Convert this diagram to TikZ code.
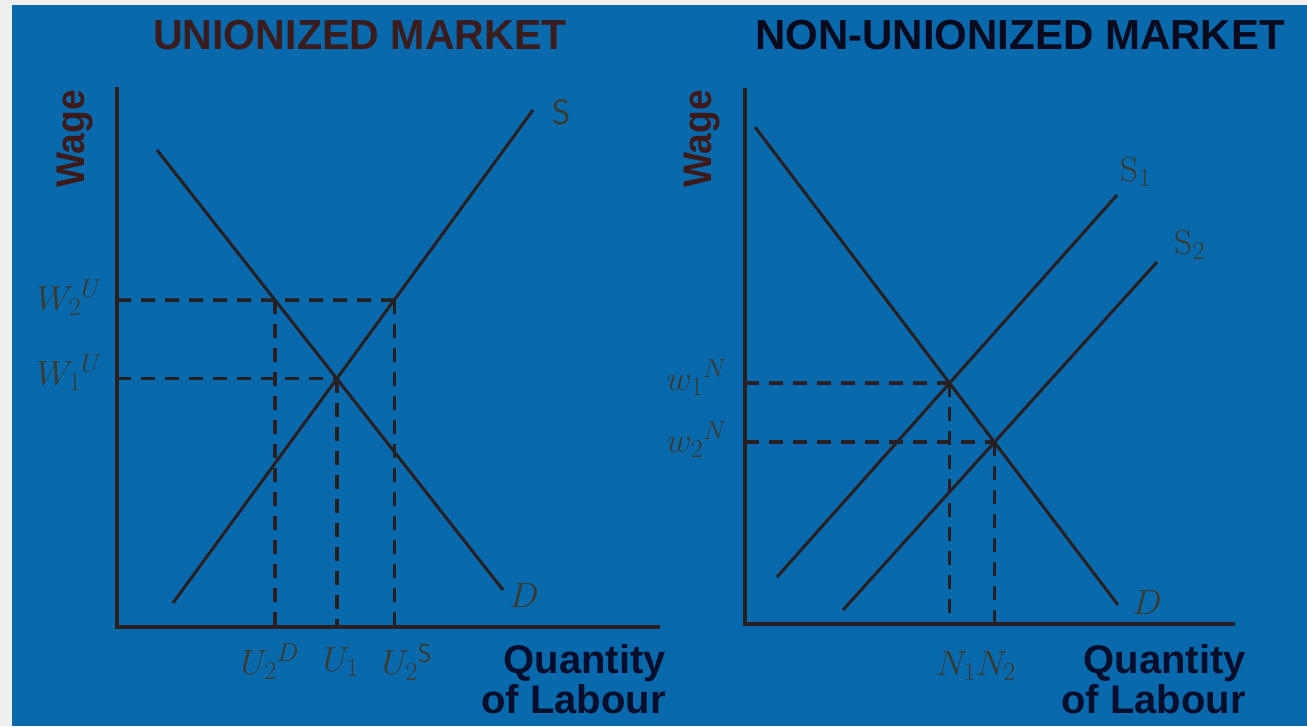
\RequirePackage{fix-cm}
\documentclass[tikz,border=0pt]{standalone}
\usepackage{fontspec}
\usepackage{graphicx}
\newfontfamily\hsans{Liberation Sans}
\DeclareMathSizes{35}{35}{26}{20}
\definecolor{bgblue}{RGB}{8,105,172}
\definecolor{edgegray}{RGB}{238,238,238}
\definecolor{linec}{RGB}{40,32,32}
\definecolor{labc}{RGB}{58,58,44}
\definecolor{titleL}{RGB}{58,28,28}
\definecolor{titleR}{RGB}{10,10,30}
\definecolor{qtyc}{RGB}{6,14,44}
\definecolor{wagec}{RGB}{60,26,26}
\tikzset{
  curve/.style={line width=3pt, draw=linec},
  axisline/.style={line width=3.5pt, draw=linec},
  dashl/.style={line width=3.5pt, draw=linec, dash pattern=on 14pt off 10pt},
  lab/.style={text=labc, font=\fontsize{35}{38}\selectfont, inner sep=0pt},
  ttl/.style={font=\hsans\bfseries\fontsize{42}{48}\selectfont, inner sep=0pt},
  qty/.style={font=\hsans\bfseries\fontsize{40}{40}\selectfont, text=qtyc, align=right, inner sep=0pt},
  wage/.style={font=\hsans\bfseries\fontsize{40}{40}\selectfont, text=wagec, rotate=90, inner sep=0pt},
}
\begin{document}
\begin{tikzpicture}[x=1pt,y=-1pt]
\useasboundingbox (0,0) rectangle (1307,726);
\fill[edgegray] (0,0) rectangle (1307,726);
\fill[bgblue] (12,5) rectangle (1307,726);

% ---------- Left panel ----------
\node[ttl, text=titleL] (tL) at (360,35) {\scalebox{0.98}[1]{UNIONIZED MARKET}};
\coordinate (LO) at (117,627);
\coordinate (LT) at (117,87);
\coordinate (LX) at (660,627);
\draw[axisline] (LT) -- (LO) -- (LX);
\node[wage] (wL) at (75,139) {\scalebox{0.93}[1]{Wage}};

\coordinate (DLa) at (157,150);
\coordinate (DLb) at (503,590);
\coordinate (SLa) at (173,603);
\coordinate (SLb) at (533,110);
\coordinate (E) at (intersection of DLa--DLb and SLa--SLb);
\coordinate (W2h) at (117,300);
\coordinate (W2r) at (600,300);
\coordinate (SW2) at (intersection of W2h--W2r and SLa--SLb);
\coordinate (DW2) at (intersection of W2h--W2r and DLa--DLb);

\draw[dashl] (W2h) -- (SW2);
\draw[dashl] (E -| LO) -- (E);
\draw[dashl] (DW2) -- (DW2 |- LO);
\draw[dashl] (E) -- (E |- LO);
\draw[dashl] (SW2) -- (SW2 |- LO);

\draw[curve] (DLa) -- (DLb);
\draw[curve] (SLa) -- (SLb);

\node[lab] (sL) at (562,112) {$\mathsf{S}$};
\node[lab] (dL) at (524,596) {$D$};
\node[lab, anchor=east] (w2u) at (102,298) {$W_2{}^{U}$};
\node[lab, anchor=east] (w1u) at (102,373) {$W_1{}^{U}$};
\node[lab] (u2d) at (270,662) {$U_2{}^{D}$};
\node[lab] (u1) at (341,662) {$U_1$};
\node[lab] (u2s) at (407,662) {$U_2{}^{\mathsf{S}}$};
\node[qty, anchor=north east] (qL) at (666,644) {Quantity\\[0pt]of Labour};

% ---------- Right panel ----------
\node[ttl, text=titleR] (tR) at (1020,35) {NON-UNIONIZED MARKET};
\coordinate (RO) at (745,624);
\coordinate (RT) at (745,88);
\coordinate (RX) at (1235,624);
\draw[axisline] (RT) -- (RO) -- (RX);
\node[wage] (wR) at (702,139) {\scalebox{0.93}[1]{Wage}};

\coordinate (DRa) at (755,127);
\coordinate (DRb) at (1118,605);
\coordinate (S1a) at (777,577);
\coordinate (S1b) at (1117,195);
\coordinate (S2a) at (843,610);
\coordinate (S2b) at (1157,262);
\coordinate (E1) at (intersection of DRa--DRb and S1a--S1b);
\coordinate (E2) at (intersection of DRa--DRb and S2a--S2b);

\draw[dashl] (E1 -| RO) -- (E1);
\draw[dashl] (E2 -| RO) -- (E2);
\draw[dashl] (E1) -- (E1 |- RO);
\draw[dashl] (E2) -- (E2 |- RO);

\draw[curve] (DRa) -- (DRb);
\draw[curve] (S1a) -- (S1b);
\draw[curve] (S2a) -- (S2b);

\node[lab] (s1) at (1136,172) {$\mathrm{S}_1$};
\node[lab] (s2) at (1190,245) {$\mathrm{S}_2$};
\node[lab] (dR) at (1147,603) {$D$};
\node[lab, anchor=east] (w1n) at (727,378) {$w_1{}^{N}$};
\node[lab, anchor=east] (w2n) at (727,440) {$w_2{}^{N}$};
\node[lab] (nn) at (976,666) {$N_1N_2$};
\node[qty, anchor=north east] (qR) at (1246,644) {Quantity\\[0pt]of Labour};
\end{tikzpicture}
\end{document}
